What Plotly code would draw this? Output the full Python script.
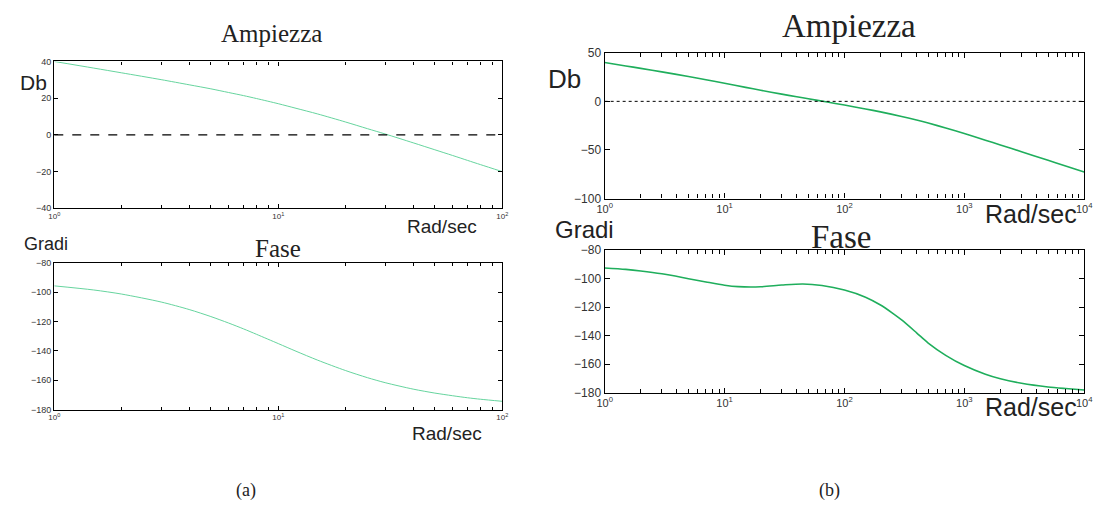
import plotly.graph_objects as go

# ---- data: (a) loop ----
freq_a = [1, 1.5, 2, 3, 4, 5, 6, 7, 8, 10, 12, 15, 20, 25, 30, 40, 50, 60, 70, 80, 100]
mag_a = [40.0, 36.4, 33.8, 30.1, 27.3, 25.1, 23.1, 21.4, 19.8, 17.0, 14.5, 11.4, 7.0,
         3.4, 0.5, -4.3, -8.1, -11.2, -13.9, -16.2, -20.0]
phase_a = [-95.7, -98.5, -101.3, -106.7, -111.8, -116.6, -121.0, -125.0, -128.7, -135.0,
           -140.2, -146.3, -153.4, -158.2, -161.6, -166.0, -168.7, -170.5, -171.9, -172.9,
           -174.3]

# ---- data: (b) loop ----
freq_b = [1, 1.5, 2, 3, 5, 7, 10, 15, 20, 30, 40, 50, 70, 100, 150, 200, 300, 400, 500,
          700, 1000, 1500, 2000, 3000, 5000, 7000, 10000]
mag_b = [40.0, 36.4, 33.9, 30.3, 25.5, 22.2, 18.6, 14.4, 11.4, 7.4, 4.7, 2.6, -0.5, -3.8,
         -7.8, -10.8, -15.5, -19.2, -22.3, -27.4, -33.1, -40.0, -44.8, -51.8, -60.6, -66.4,
         -72.7]
freq_bp = [1, 1.5, 2, 3, 5, 7, 10, 13, 20, 30, 45, 65, 100, 150, 200, 250, 300, 400, 500,
           700, 1000, 1500, 2000, 3000, 5000, 7000, 10000]
phase_b = [-92.5, -93.5, -94.6, -96.6, -100.0, -102.3, -104.6, -105.6, -105.7, -104.5,
           -103.7, -104.8, -108.0, -113.0, -118.5, -124.0, -129.0, -138.0, -145.2, -153.8,
           -161.0, -167.1, -170.3, -173.4, -176.0, -177.1, -178.1]

W, H = 1104, 512
SANS = "Liberation Sans, Arial, sans-serif"
SERIF = "Liberation Serif, Times New Roman, serif"


def px(x, y):
    return x / W, 1 - y / H


def dom(x0, x1, y0, y1):
    return [x0 / W, x1 / W], [1 - y1 / H, 1 - y0 / H]


def minor_vals(decades):
    return [m * 10 ** d for d in range(decades) for m in range(2, 10)]


fig = go.Figure()

panels = [
    # (xaxis, yaxis, x, y, colour, width, plot box in px)
    ("x", "y", freq_a, mag_a, "#66d49e", 1.0, (47, 502, 56, 207)),
    ("x2", "y2", freq_a, phase_a, "#66d49e", 1.0, (47, 502, 263, 414)),
    ("x3", "y3", freq_b, mag_b, "#1fae5c", 1.6, (606, 1093, 47, 197)),
    ("x4", "y4", freq_bp, phase_b, "#1fae5c", 1.6, (606, 1093, 250, 396.5)),
]

for xa, ya, xs, ys, col, lw, _ in panels:
    fig.add_trace(go.Scatter(x=xs, y=ys, mode="lines", xaxis=xa, yaxis=ya,
                             line=dict(color=col, width=lw, shape="spline", smoothing=0.8),
                             showlegend=False, hoverinfo="skip"))

layout = dict(width=W, height=H, margin=dict(l=0, r=0, t=0, b=0),
              paper_bgcolor="white", plot_bgcolor="white", showlegend=False)

axis_specs = [
    # small (a) panels
    dict(dec=2, yr=[-40, 40], ydt=20, tf=9, xf=8, tl=4),
    dict(dec=2, yr=[-180, -80], ydt=20, tf=9, xf=8, tl=4),
    # larger (b) panels
    dict(dec=4, yr=[-100, 50], ydt=50, tf=12, xf=11, tl=5),
    dict(dec=4, yr=[-180, -80], ydt=20, tf=12, xf=11, tl=5),
]

for i, ((xa, ya, *_rest), spec) in enumerate(zip(panels, axis_specs)):
    x0, x1, y0, y1 = _rest[-1]
    dx, dy = dom(x0, x1, y0, y1)
    n = "" if i == 0 else str(i + 1)
    majors = [10 ** k for k in range(spec["dec"] + 1)]
    layout["xaxis" + n] = dict(
        type="log", range=[0, spec["dec"]], domain=dx, anchor="y" + n,
        tickvals=majors, ticktext=[f"10<sup>{k}</sup>" for k in range(spec["dec"] + 1)],
        ticks="inside", ticklen=spec["tl"], tickcolor="black", tickwidth=1,
        minor=dict(tickvals=minor_vals(spec["dec"]), ticks="inside", ticklen=spec["tl"] - 1,
                   tickcolor="black", showgrid=False),
        showline=True, linecolor="black", linewidth=1.3, mirror="allticks",
        showgrid=False, zeroline=False,
        tickfont=dict(family=SANS, size=spec["xf"], color="#333"))
    layout["yaxis" + n] = dict(
        range=spec["yr"], dtick=spec["ydt"], domain=dy, anchor="x" + n,
        ticks="inside", ticklen=spec["tl"], tickcolor="black", tickwidth=1,
        showline=True, linecolor="black", linewidth=1.3, mirror="allticks",
        showgrid=False, zeroline=False,
        tickfont=dict(family=SANS, size=spec["tf"], color="#333"))

fig.update_layout(**layout)

# zero-dB reference lines
fig.add_shape(type="line", xref="x domain", yref="y", x0=0, x1=1, y0=0, y1=0,
              line=dict(color="black", width=1.2, dash="dash"))
fig.add_shape(type="line", xref="x3 domain", yref="y3", x0=0, x1=1, y0=0, y1=0,
              line=dict(color="black", width=1, dash="dot"))


def label(text, x, y, size, family=SANS, xanchor="center", color="#222"):
    xp, yp = px(x, y)
    fig.add_annotation(text=text, x=xp, y=yp, xref="paper", yref="paper",
                       xanchor=xanchor, yanchor="middle", showarrow=False,
                       font=dict(family=family, size=size, color=color))


# (a) labels
label("Ampiezza", 268, 27, 25, SERIF)
label("Db", 10, 78, 21, xanchor="left")
label("Rad/sec", 441, 226, 19)
label("Gradi", 14, 244, 18, xanchor="left")
label("Fase", 274, 248, 25, SERIF)
label("Rad/sec", 446, 438, 19)
label("(a)", 242, 497, 18, SERIF)

# (b) labels
label("Ampiezza", 854, 20, 33, SERIF)
label("Db", 546, 74, 26, xanchor="left")
label("Rad/sec", 1039, 213, 25)
label("Gradi", 554, 229, 24, xanchor="left")
label("Fase", 847, 236, 33, SERIF)
label("Rad/sec", 1039, 411, 25)
label("(b)", 834, 497, 18, SERIF)

fig.write_html("out.html")
